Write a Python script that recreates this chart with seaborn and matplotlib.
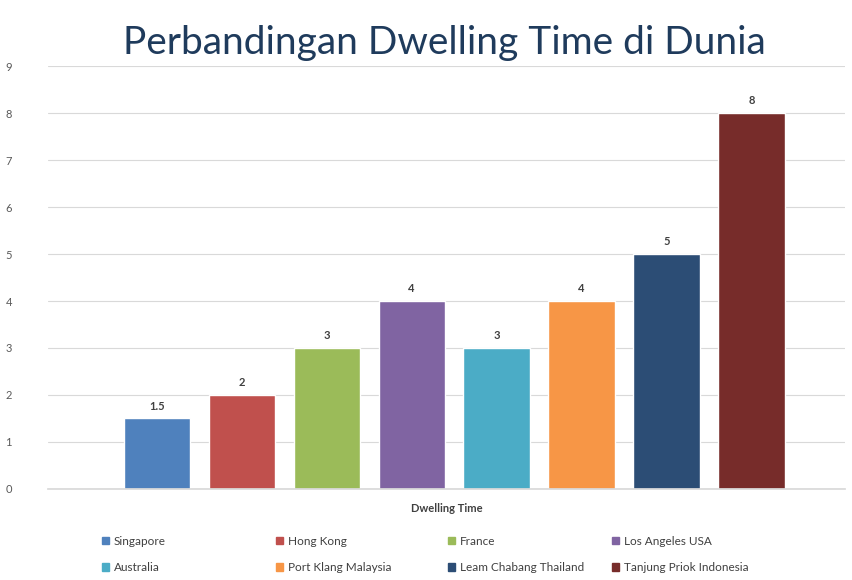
import matplotlib
matplotlib.use("Agg")
import matplotlib.pyplot as plt
import pandas as pd
import seaborn as sns

countries = ["Singapore", "Hong Kong", "France", "Los Angeles USA",
             "Australia", "Port Klang Malaysia", "Leam Chabang Thailand",
             "Tanjung Priok Indonesia"]
dwelling_days = [1.5, 2, 3, 4, 3, 4, 5, 8]
value_labels = ["1.5", "2", "3", "4", "3", "4", "5", "8"]
bar_colors = ["#4F81BD", "#C0504D", "#9BBB59", "#8064A2",
              "#4BACC6", "#F79646", "#2C4D75", "#772C2A"]
y_ticks = list(range(0, 10))

df = pd.DataFrame({"country": countries, "days": dwelling_days})

sns.set_theme(style="white")
plt.rcParams["font.family"] = ["Lato", "DejaVu Sans"]

fig = plt.figure(figsize=(8.53, 5.80), dpi=100)
ax = fig.add_axes([0.0563, 0.157, 0.9343, 0.729])

sns.barplot(data=df, x="country", y="days", hue="country",
            palette=bar_colors, width=0.78, legend=False, ax=ax,
            saturation=1)

# value labels on top of bars
for cont, lab in zip(ax.containers, value_labels):
    ax.bar_label(cont, labels=[lab], padding=5, fontsize=8,
                 fontweight="bold", color="#404040")

ax.set_ylim(0, 9)
ax.set_yticks(y_ticks)
ax.set_yticklabels([str(t) for t in y_ticks], fontsize=8, color="#595959")
ax.set_xlim(-1.28, 8.1)
ax.set_xticks([])
ax.set_xlabel("Dwelling Time", fontsize=8, fontweight="bold",
              color="#404040", labelpad=10)
ax.set_ylabel("")
ax.grid(axis="y", color="#d9d9d9", linewidth=0.8)
ax.set_axisbelow(True)
for side in ["top", "right", "left"]:
    ax.spines[side].set_visible(False)
ax.spines["bottom"].set_color("#d9d9d9")
ax.tick_params(axis="y", length=0, pad=26)

# title
fig.text(0.5205, 0.926, "Perbandingan Dwelling Time di Dunia",
         ha="center", va="center", fontsize=28, color="#1f3b5c")

# legend: two rows, four columns, filled row by row
handles = [plt.Rectangle((0, 0), 1, 1, color=c) for c in bar_colors]
col_x = [96, 270, 442, 606]
for i, x in enumerate(col_x):
    fig.legend([handles[i], handles[i + 4]], [countries[i], countries[i + 4]],
               loc="upper left", bbox_to_anchor=(x / 853, 1 - 530 / 580),
               frameon=False, fontsize=8.5, handlelength=0.6,
               handleheight=0.6, handletextpad=0.4, labelspacing=1.3,
               borderpad=0, labelcolor="#404040")

fig.savefig("out.png", dpi=100, facecolor="white")
